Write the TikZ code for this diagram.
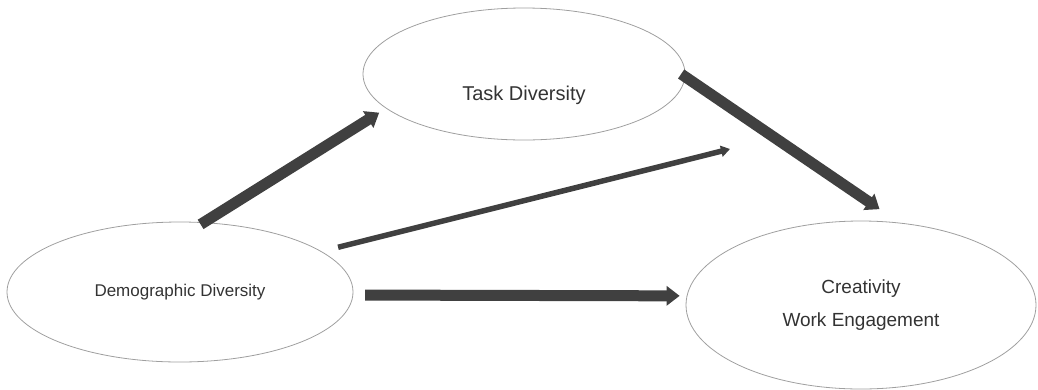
\documentclass[tikz,border=0pt]{standalone}
\usepackage{fontspec}
\setmainfont{Liberation Sans}
\usetikzlibrary{shapes.geometric,arrows.meta}
\definecolor{arrowgray}{HTML}{404040}
\tikzset{
	var/.style={ellipse,draw=gray!75,line width=0.8pt,inner sep=0pt,text=black!80},
	thickarrow/.style={arrowgray,line width=11pt,-{Triangle[width=19pt,length=13pt]}},
	thinarrow/.style={arrowgray,line width=5.5pt,-{Triangle[width=11pt,length=9pt]}}
}
\begin{document}
\begin{tikzpicture}[x=1pt,y=-1pt]
		\useasboundingbox (0,0)rectangle(1038,389);
		% variables
		\node[var,minimum width=322pt,minimum height=132pt] (task) at (524,74) {};
		\node[text=black!80,font=\fontsize{20}{24}\selectfont] (tasklabel) at (524,95) {Task Diversity};
		\node[var,minimum width=346pt,minimum height=140pt,font=\fontsize{17}{20}\selectfont] (demo) at (180,292) {Demographic Diversity};
		\node[var,minimum width=350pt,minimum height=168pt,align=center,font=\fontsize{19}{33}\selectfont] (outcome) at (861,305) {Creativity\\Work Engagement};
		\coordinate (direct) at (730,149);
		% paths
		\draw[thickarrow,shorten <=-4pt,shorten >=8pt] (demo.71)--(task.194);
		\draw[thinarrow,shorten <=17pt] (demo.16)--(direct);
		\draw[thickarrow,shorten <=12pt,shorten >=7pt] (demo.-1)--(outcome.177);
		\draw[thickarrow,shorten <=-5pt,shorten >=24pt] (task.-1)--(outcome.65);
\end{tikzpicture}
\end{document}
